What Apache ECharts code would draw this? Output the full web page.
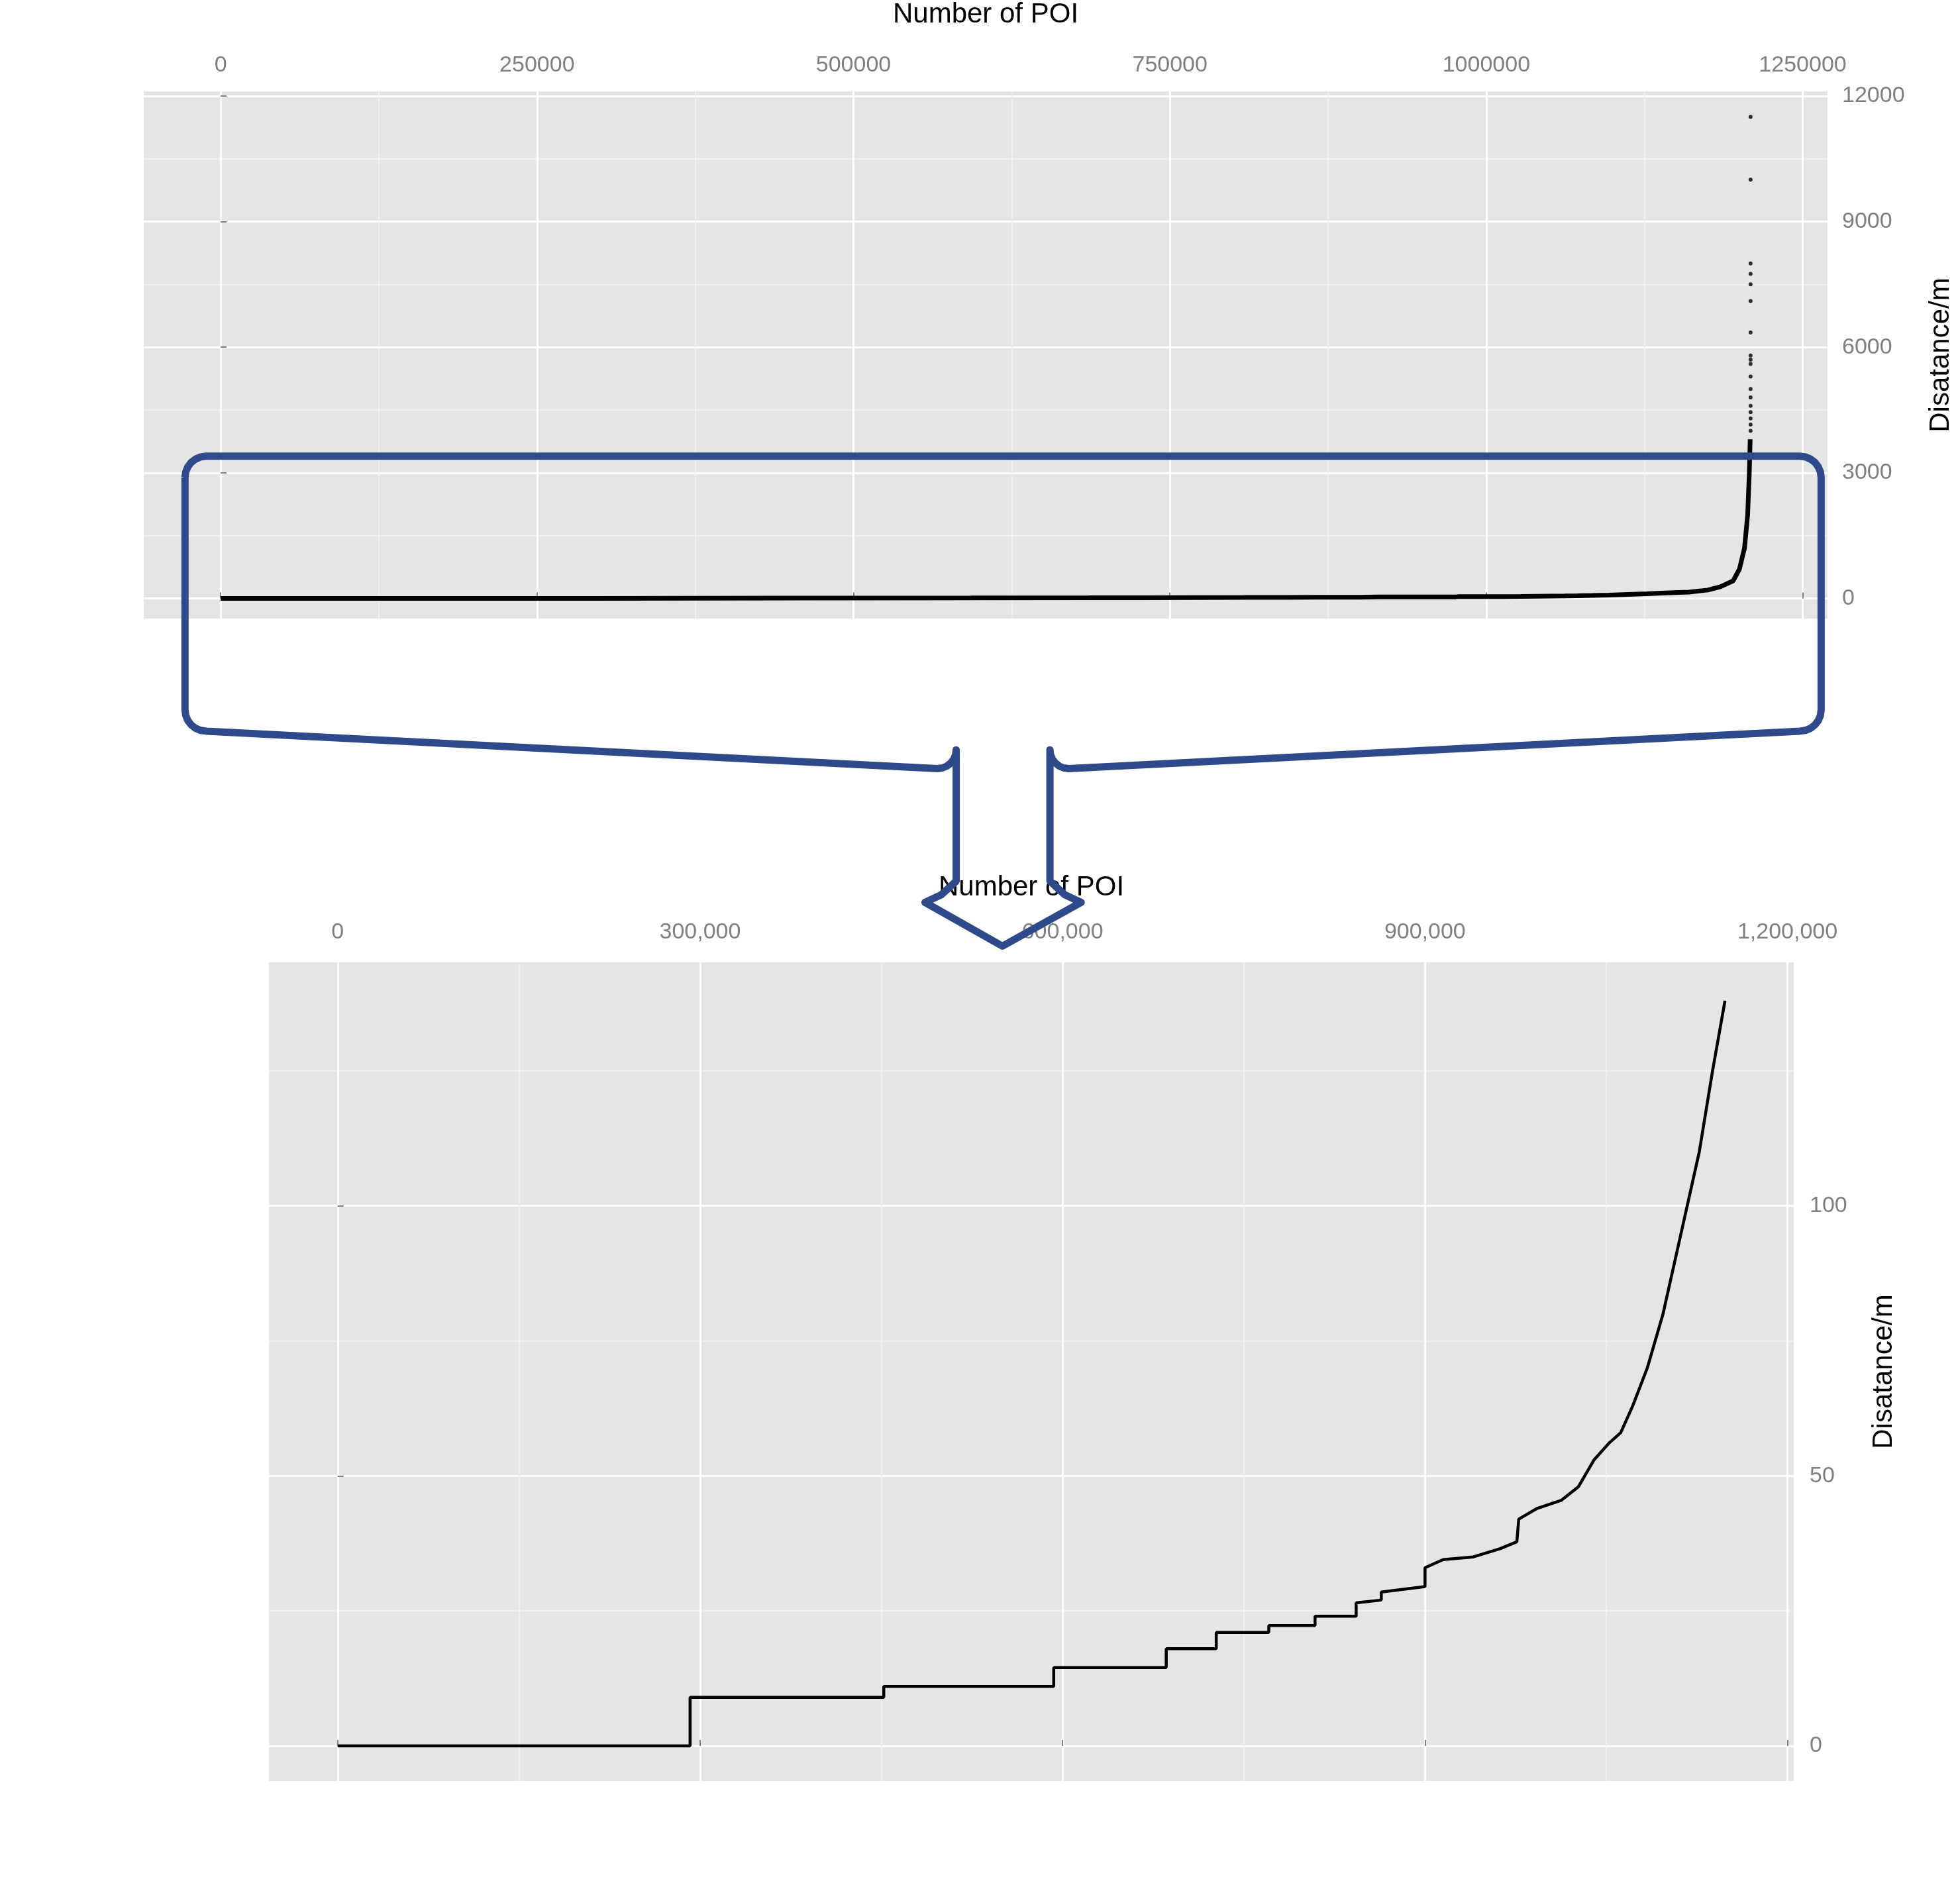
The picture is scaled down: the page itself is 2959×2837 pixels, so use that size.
<!DOCTYPE html>
<html><head><meta charset="utf-8">
<script src="https://cdn.jsdelivr.net/npm/echarts@6/dist/echarts.min.js"></script>
<style>html,body{margin:0;padding:0;background:#fff}#c{width:2959px;height:2837px}</style>
</head><body><div id="c"></div>
<script>
// ---- data ----
const zoomCurve = [[0,0],[291700,0],[291700,9],[452000,9],[452000,11],[592700,11],[592700,14.5],[685800,14.5],[685800,18],[727200,18],[727200,21],[770700,21],[770700,22.3],[809000,22.3],[809000,24],[843000,24],[843000,26.5],[863800,27],[863800,28.5],[900000,29.5],[900000,33],[915000,34.5],[940000,35],[962000,36.5],[976000,37.8],[977600,42],[993000,44],[1013000,45.5],[1027000,48],[1040000,53],[1052000,56],[1062000,58],[1072000,63],[1084000,70],[1097000,80],[1112000,95],[1127000,110],[1138000,125],[1148300,138]];
const tailCurve = [[1160000,150],[1175000,200],[1185000,280],[1195000,420],[1200000,700],[1204000,1200],[1206500,2000],[1207800,3000],[1208500,3800]];
const outliers = [[1208800,11500],[1208800,10000],[1208800,8000],[1208800,7750],[1208800,7500],[1208800,7100],[1208800,6350],[1208800,5800],[1208800,5700],[1208800,5600],[1208800,5300],[1208800,5000],[1208800,4800],[1208800,4600],[1208800,4450],[1208800,4300],[1208800,4150],[1208800,4000]];
const topXMajor = [0,250000,500000,750000,1000000,1250000];
const topXMinor = [125000,375000,625000,875000,1125000];
const topYMajor = [0,3000,6000,9000,12000];
const topYMinor = [1500,4500,7500,10500];
const botXMajor = [0,300000,600000,900000,1200000];
const botXMinor = [150000,450000,750000,1050000];
const botYMajor = [0,50,100];
const botYMinor = [25,75,125];
const axisTitleX = 'Number of POI';
const axisTitleY = 'Disatance/m';
// ---- chart ----
const lab = {color:'#7f7f7f', fontSize:34, fontFamily:'Liberation Sans'};
const nameStyle = {color:'#000', fontSize:42, fontFamily:'Liberation Sans'};
function major(gi, min, max, vals, fmt, name, gap, margin){
  return {type:'value', gridIndex:gi, min, max, name, nameLocation:'middle', nameGap:gap, nameTextStyle:nameStyle,
    axisLine:{show:false}, axisTick:{show:true, length:9, customValues:vals, lineStyle:{color:'#7f7f7f',width:2}},
    axisLabel:Object.assign({customValues:vals, margin, formatter:fmt}, lab),
    splitLine:{show:true, lineStyle:{color:'#ffffff', width:3}}};
}
function minor(gi, min, max, vals){
  return {type:'value', gridIndex:gi, min, max, axisLine:{show:false},
    axisLabel:{show:false, customValues:vals},
    axisTick:{show:false, customValues:vals}, splitLine:{show:true, lineStyle:{color:'#f2f2f2', width:1.5}}};
}
const plain = v => String(v);
const comma = v => Number(v).toLocaleString('en-US');
// annotation outline (display coords scaled)
const S = 1.887;
function corner(cx, cy, r, a0, a1){
  const p=[]; for(let i=0;i<=6;i++){const a=a0+(a1-a0)*i/6; p.push([(cx+r*Math.cos(a))*S,(cy+r*Math.sin(a))*S]);} return p;
}
const P = Math.PI;
let pts = [];
pts = pts.concat(corner(165,382,17,P,1.5*P));
pts = pts.concat(corner(1440,382,17,1.5*P,2*P));
pts = pts.concat(corner(1440,568,17,0,0.5*P));
pts = pts.concat(corner(855,600,15,0.5*P,P));
pts.push([840*S,705*S],[852*S,716*S],[865*S,722*S],[802*S,757*S],[740*S,722*S],[753*S,716*S],[765*S,705*S]);
pts = pts.concat(corner(750,600,15,0,0.5*P));
pts = pts.concat(corner(165,568,17,0.5*P,P));
pts.push(pts[0]);
const chart = echarts.init(document.getElementById('c'));
chart.setOption({
  backgroundColor:'#fff', animation:false,
  grid:[
    {left:217, right:59, top:47, height:887, show:true, backgroundColor:'#e5e5e5', borderWidth:0},
    {left:406, right:251, top:1453, height:1236, show:true, backgroundColor:'#e5e5e5', borderWidth:0}
  ],
  xAxis:[
    minor(0,-60800,1269600,topXMinor),
    major(0,-60800,1269600,topXMajor,plain,axisTitleX,95,22),
    minor(1,-56900,1205200,botXMinor),
    major(1,-56900,1205200,botXMajor,comma,axisTitleX,92,28)
  ],
  yAxis:[
    minor(0,-482,12107,topYMinor),
    major(0,-482,12107,topYMajor,plain,axisTitleY,150,22),
    minor(1,-6.5,145.1,botYMinor),
    major(1,-6.5,145.1,botYMajor,plain,axisTitleY,115,24)
  ],
  series:[
    {type:'line', xAxisIndex:1, yAxisIndex:1, data:zoomCurve.concat(tailCurve), symbol:'none', lineStyle:{color:'#000',width:7}, z:3},
    {type:'scatter', xAxisIndex:1, yAxisIndex:1, data:outliers, symbolSize:6, itemStyle:{color:'#000'}, z:3},
    {type:'line', xAxisIndex:3, yAxisIndex:3, data:zoomCurve, symbol:'none', lineStyle:{color:'#000',width:4.5}, z:3}
  ],
  graphic:[{
    type:'polyline', z:100,
    shape:{points:pts},
    style:{fill:null, stroke:'#2f4a8a', lineWidth:11, lineJoin:'round'}
  }]
});
</script></body></html>
